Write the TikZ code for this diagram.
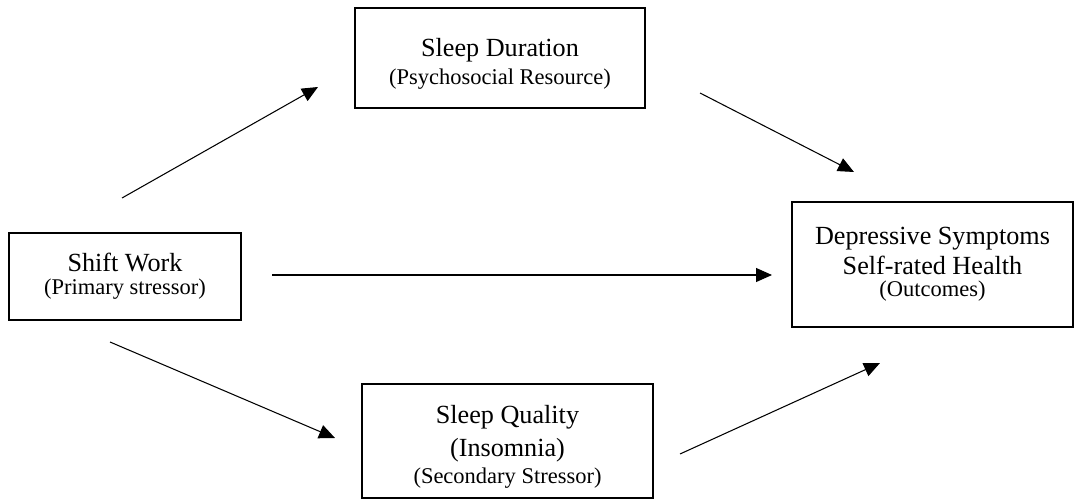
\documentclass[tikz,border=0pt]{standalone}
\usepackage{fontspec}
\setmainfont{Liberation Serif}
\usepackage{tikz}
\usetikzlibrary{arrows.meta}
\newcommand{\mainsz}{\fontsize{14.9}{17}\selectfont}
\newcommand{\subsz}{\fontsize{12.8}{15}\selectfont}
\newcommand{\topgap}{\rule{0pt}{17pt}}

\begin{document}
\begin{tikzpicture}[x=0.02cm, y=-0.02cm,
  box/.style={rectangle, draw, line width=1.1pt, align=center, inner sep=0pt},
  arr/.style={-{Triangle[length=0.32cm, width=0.28cm]}, line width=0.6pt}]

  \useasboundingbox (0,0) rectangle (1075,500);

  % Boxes
  \node[box, minimum width=4.64cm, minimum height=1.74cm] (shift) at (125,276.5)
    {\mainsz Shift Work\\[1.2pt] \subsz (Primary stressor)};
  \node[box, minimum width=5.8cm, minimum height=2cm] (dur) at (500,58)
    {\mainsz \topgap Sleep Duration\\[2.5pt] \subsz (Psychosocial Resource)};
  \node[box, minimum width=5.62cm, minimum height=2.5cm] (out) at (932.5,264.5)
    {\mainsz Depressive Symptoms\\[2.2pt] \mainsz Self-rated Health\\[0.6pt] \subsz (Outcomes)};
  \node[box, minimum width=5.82cm, minimum height=2.28cm] (qual) at (507.5,441)
    {\mainsz \topgap Sleep Quality\\[4pt] \mainsz (Insomnia)\\[2.5pt] \subsz (Secondary Stressor)};

  % Arrow ends
  \coordinate (sd1) at (122,198);
  \coordinate (sd2) at (318,87);
  \coordinate (do1) at (700,93);
  \coordinate (do2) at (854,172);
  \coordinate (so1) at (272,275);
  \coordinate (so2) at (772,275);
  \coordinate (sq1) at (110,342);
  \coordinate (sq2) at (335,438);
  \coordinate (qo1) at (680,454);
  \coordinate (qo2) at (880,363);

  % Paths
  \draw[arr] (sd1) -- (sd2);
  \draw[arr] (do1) -- (do2);
  \draw[arr] (so1) -- (so2);
  \draw[arr] (sq1) -- (sq2);
  \draw[arr] (qo1) -- (qo2);

\end{tikzpicture}
\end{document}
